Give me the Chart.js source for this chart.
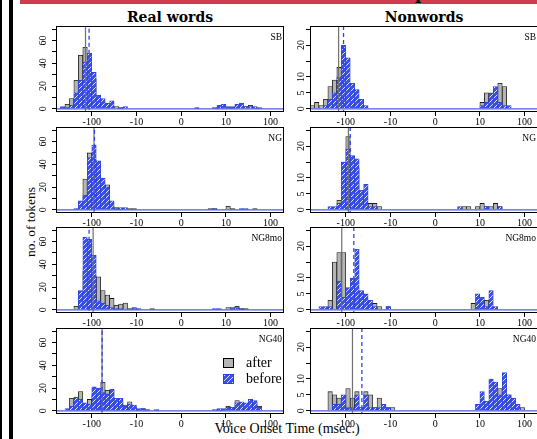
<!DOCTYPE HTML>
<html lang="en">
<head>
  <meta http-equiv="content-type" content="text/html; charset=UTF-8">
  <script src="https://cdn.jsdelivr.net/npm/chart.js"></script>
  <style>
    html, body { margin:0; padding:0; overflow:hidden; background:#fff; }
    body { position:relative; width:537px; height:439px; font-family:"Liberation Serif", serif; color:#000; }
    .abs { position:absolute; }
    canvas { position:absolute; }
    .title { position:absolute; top:8px; width:228px; text-align:center; font:bold 14px/18px "DejaVu Serif", serif; }
  </style>
</head>
<body>
  <div class="abs" style="left:0;top:0;width:2px;height:439px;background:#000"></div>
  <div class="abs" style="left:9px;top:0;width:4px;height:439px;background:#000"></div>
  <div class="abs" style="left:20px;top:0;width:517px;height:4px;background:#d03b4f"></div>
  <div class="abs" style="left:415px;top:-17px;font:bold 17px/20px 'DejaVu Serif',serif">p</div>
  <div class="title" style="left:56px">Real words</div>
  <div class="title" style="left:310px">Nonwords</div>
  <div class="abs" style="left:-29px;top:214px;width:120px;height:16px;line-height:16px;text-align:center;font-size:13.5px;transform:rotate(-90deg)">no. of tokens</div>
  <div class="abs" style="left:187px;top:421px;width:200px;text-align:center;font-size:14px;line-height:16px">Voice Onset Time (msec.)</div>

  <script>
    // x axis is in transformed units: -2 = -100 ms, -1 = -10, 0, 1 = 10, 2 = 100 ms
    const binStart = -2.8, binWidth = 0.1;
    const xMin = -2.8, xMax = 2.3;
    const xTickPos = [-2, -1, 0, 1, 2];
    const xTickText = ['-100', '-10', '0', '10', '100'];

    const yTicksWords = [0, 10, 20, 30, 40, 50, 60, 70];
    const yLabelsWords = ['0', '', '20', '', '40', '', '60', ''];
    const yTicksNon = [0, 5, 10, 15, 20, 25];
    const yLabelsNon = ['0', '5', '10', '', '20', ''];

    const panelNames = ['SB', 'SB', 'NG', 'NG', 'NG8mo', 'NG8mo', 'NG40', 'NG40'];

    // counts per bin, 51 bins (binStart .. xMax)
    const realSB_after = [
      0,1,4,9,25,47,54,40,26,8,  5,3,2,2,1,0,0,0,0,0,  0,0,0,0,0,0,0,0,0,0,
      0,0,0,0,0,1,1,2,1,1,  2,3,2,3,1,0,0,0,0,0,0];
    const realSB_before = [
      0,2,1,3,14,25,41,49,32,12,  9,5,7,0,1,2,0,0,0,0,  0,0,0,0,0,0,0,0,0,0,
      0,1,0,0,0,0,3,4,2,2,  4,5,2,2,2,1,0,0,0,0,0];
    const nonSB_after = [
      1,2,1,3,7,9,13,12,8,5,  3,1,0,0,0,0,0,0,0,0,  0,0,0,0,0,0,0,0,0,0,
      0,0,0,0,0,0,0,0,2,5,  4,5,8,7,0,0,0,0,0,0,0];
    const nonSB_before = [
      0,0,0,1,3,5,10,20,16,8,  6,3,1,0,0,0,0,0,0,0,  0,0,0,0,0,0,0,0,0,0,
      0,0,0,0,0,0,0,0,1,2,  5,7,2,1,1,0,0,0,0,0,0];
    const realNG_after = [
      0,0,0,0,0,0,27,50,44,36,  22,22,3,2,1,0,1,1,0,0,  0,0,0,0,0,0,0,0,0,0,
      0,0,0,0,1,1,0,0,3,1,  0,0,0,0,1,0,0,0,0,0,0];
    const realNG_before = [
      0,0,0,0,1,8,13,46,57,43,  28,20,8,1,2,2,0,0,0,0,  0,0,0,0,0,0,0,0,0,0,
      0,0,0,0,0,1,0,0,0,0,  0,1,1,0,0,0,0,0,0,0,0];
    const nonNG_after = [
      0,0,0,0,0,0,3,15,23,14,  13,6,2,2,2,1,0,0,0,0,  0,0,0,0,0,0,0,0,0,0,
      0,0,0,0,1,1,0,1,2,1,  1,2,1,0,0,0,0,0,0,0,0];
    const nonNG_before = [
      0,0,0,0,1,1,2,15,19,17,  16,6,8,1,1,0,0,0,0,0,  0,0,0,0,0,0,0,0,0,0,
      0,0,0,1,0,0,0,0,0,1,  0,0,1,0,0,0,0,0,0,0,0];
    const realNG8_after = [
      0,0,0,0,3,16,34,35,30,29,  17,13,10,4,5,6,1,2,0,0,  0,1,0,0,0,0,0,0,0,0,
      0,0,0,0,0,0,0,0,2,2,  3,1,1,0,0,0,0,0,0,0,0];
    const realNG8_before = [
      0,0,0,0,0,17,64,62,48,8,  6,4,2,1,1,0,0,1,1,0,  0,0,0,0,0,0,0,0,0,0,
      0,0,0,0,0,1,1,0,0,1,  2,1,0,0,0,0,0,0,0,0,0];
    const nonNG8_after = [
      0,0,0,0,3,15,18,18,4,4,  4,2,1,2,2,1,0,1,0,0,  0,0,0,0,0,0,0,0,0,0,
      0,0,0,0,0,0,2,1,1,3,  1,0,0,0,0,0,0,0,0,0,0];
    const nonNG8_before = [
      0,0,1,1,1,0,9,4,7,10,  19,6,5,3,1,0,0,1,0,0,  0,0,0,0,0,0,0,0,0,0,
      0,0,0,0,0,0,0,5,4,1,  6,1,0,0,0,0,0,0,0,0,0];
    const realNG40_after = [
      0,0,0,11,8,17,6,10,15,18,  25,18,18,11,8,5,8,3,1,2,  0,0,0,0,0,0,0,0,0,0,
      0,0,0,0,0,0,1,1,4,2,  9,6,5,8,7,4,0,0,0,0,0];
    const realNG40_before = [
      0,0,2,4,12,10,7,6,21,20,  16,15,19,11,11,4,6,5,2,2,  1,0,1,0,0,0,0,0,0,0,
      0,0,0,0,0,1,2,2,3,3,  7,8,7,10,9,3,0,0,0,0,0];
    const nonNG40_after = [
      0,0,0,0,6,5,4,4,7,4,  6,1,6,5,1,4,1,1,1,0,  0,0,0,0,0,0,0,0,0,0,
      0,0,0,0,0,0,0,0,1,1,  2,4,7,5,5,2,1,1,0,0,0];
    const nonNG40_before = [
      0,0,0,0,0,2,2,5,1,1,  5,1,5,1,1,1,2,1,0,0,  0,0,0,0,0,0,0,0,0,0,
      0,0,0,0,0,0,0,2,6,3,  10,9,5,12,5,4,2,0,0,0,0];

    // medians (transformed units), drawn as vertical lines
    const medianAfter = [-2.14, -2.16, -1.95, -1.94, -1.97, -2.09, -1.77, -1.85];
    const medianBefore = [-2.06, -2.05, -1.94, -1.90, -2.06, -1.82, -1.77, -1.64];

    const afterSeries = [realSB_after, nonSB_after, realNG_after, nonNG_after,
                         realNG8_after, nonNG8_after, realNG40_after, nonNG40_after];
    const beforeSeries = [realSB_before, nonSB_before, realNG_before, nonNG_before,
                          realNG8_before, nonNG8_before, realNG40_before, nonNG40_before];

    const rowTops = [26, 127, 227, 328];
    const boxW = 228, boxH = 86, axisW = 30, axisH = 16, padTop = 4;
    const grayFill = '#b5b5b5', blueLine = '#2b40e0';

    function makeHatch(ctx) {
      const t = document.createElement('canvas');
      t.width = 5; t.height = 5;
      const g = t.getContext('2d');
      g.fillStyle = '#3b50e4';
      g.fillRect(0, 0, 5, 5);
      g.strokeStyle = 'rgba(255,255,255,0.85)';
      g.lineWidth = 1;
      g.beginPath();
      g.moveTo(0, 5); g.lineTo(5, 0);
      g.moveTo(-1, 1); g.lineTo(1, -1);
      g.moveTo(4, 6); g.lineTo(6, 4);
      g.stroke();
      return ctx.createPattern(t, 'repeat');
    }

    const panelDecor = {
      id: 'panelDecor',
      afterDraw(chart, args, opts) {
        const { ctx, chartArea: a, scales } = chart;
        ctx.save();
        ctx.strokeStyle = '#000';
        ctx.lineWidth = 1;
        ctx.strokeRect(Math.round(a.left) + 0.5, Math.round(a.top) + 0.5,
                       Math.round(a.right - a.left) - 1, Math.round(a.bottom - a.top) - 1);

        // rotated y tick labels, R style
        ctx.fillStyle = '#000';
        ctx.font = '10px "Liberation Serif"';
        ctx.textAlign = 'center';
        ctx.textBaseline = 'middle';
        scales.y.ticks.forEach((t, i) => {
          const txt = opts.yLabels[i];
          if (!txt) return;
          ctx.save();
          ctx.translate(a.left - opts.labelGap, scales.y.getPixelForValue(t.value));
          ctx.rotate(-Math.PI / 2);
          ctx.fillText(txt, 0, 0);
          ctx.restore();
        });

        ctx.font = '9.5px "Liberation Serif"';
        ctx.textAlign = 'right';
        ctx.fillText(opts.name, a.right - 2, a.top + 11);

        if (opts.legend) {
          const bx = a.left + 167;
          const rows = [[a.top + 30, grayFill, '#000', 'after'],
                        [a.top + 46, chart.data.datasets[3].backgroundColor, blueLine, 'before']];
          ctx.font = '14px "Liberation Serif"';
          ctx.textAlign = 'left';
          rows.forEach(([by, fill, stroke, txt]) => {
            ctx.fillStyle = fill;
            ctx.fillRect(bx, by, 10, 9);
            ctx.strokeStyle = stroke;
            ctx.strokeRect(bx + 0.5, by + 0.5, 10, 9);
            ctx.fillStyle = '#000';
            ctx.fillText(txt, bx + 23, by + 5);
          });
        }
        ctx.restore();
      }
    };

    function drawPanel(idx) {
      const col = idx % 2, row = Math.floor(idx / 2);
      const words = col === 0;
      const boxLeft = words ? 56 : 310;
      const cv = document.createElement('canvas');
      cv.width = axisW + boxW + 2;
      cv.height = padTop + boxH + axisH;
      cv.style.left = (boxLeft - axisW) + 'px';
      cv.style.top = (rowTops[row] - padTop) + 'px';
      document.body.appendChild(cv);
      const ctx = cv.getContext('2d');
      const hatch = makeHatch(ctx);

      const after = afterSeries[idx], before = beforeSeries[idx];
      const centres = after.map((_, i) => +(binStart + (i + 0.5) * binWidth).toFixed(3));
      const yTicks = words ? yTicksWords : yTicksNon;
      const barOpts = { grouped: false, barPercentage: 1, categoryPercentage: 1, borderWidth: 0.8 };

      new Chart(cv, {
        type: 'bar',
        data: {
          datasets: [
            { type: 'line', data: [{ x: xMin, y: 0 }, { x: xMax, y: 0 }],
              borderColor: '#4a5ce6', borderWidth: 1.2, pointRadius: 0 },
            { type: 'line', data: [{ x: medianBefore[idx], y: -50 }, { x: medianBefore[idx], y: 200 }],
              borderColor: '#3344ee', borderWidth: 1.3, borderDash: [4, 3], pointRadius: 0 },
            { type: 'line', data: [{ x: medianAfter[idx], y: -50 }, { x: medianAfter[idx], y: 200 }],
              borderColor: '#707070', borderWidth: 1.2, pointRadius: 0 },
            Object.assign({ label: 'before', data: centres.map((x, i) => ({ x, y: before[i] })),
              backgroundColor: hatch, borderColor: blueLine }, barOpts),
            Object.assign({ label: 'after', data: centres.map((x, i) => ({ x, y: after[i] })),
              backgroundColor: grayFill, borderColor: '#1a1a1a' }, barOpts)
          ]
        },
        options: {
          responsive: false,
          animation: false,
          events: [],
          layout: { padding: { top: padTop, right: 2, left: 0, bottom: 0 } },
          plugins: {
            legend: { display: false },
            tooltip: { enabled: false },
            panelDecor: { yLabels: words ? yLabelsWords : yLabelsNon, labelGap: words ? 13 : 9,
                          name: panelNames[idx], legend: idx === 6 }
          },
          scales: {
            x: {
              type: 'linear', min: xMin, max: xMax, offset: false,
              afterBuildTicks: s => { s.ticks = xTickPos.map(v => ({ value: v })); },
              afterFit: s => { s.height = axisH; },
              ticks: { callback: v => xTickText[xTickPos.indexOf(v)], autoSkip: false, maxRotation: 0,
                       padding: 0, color: '#000', font: { family: 'Liberation Serif', size: 10 } },
              grid: { drawOnChartArea: false, drawTicks: true, tickLength: 4, color: '#000', offset: false },
              border: { display: false }
            },
            y: {
              type: 'linear', min: words ? -2.8 : -1, max: words ? 72.8 : 26,
              afterBuildTicks: s => { s.ticks = yTicks.map(v => ({ value: v })); },
              afterFit: s => { s.width = axisW; },
              ticks: { display: false },
              grid: { drawOnChartArea: false, drawTicks: true, tickLength: 4, color: '#000' },
              border: { display: false }
            }
          }
        },
        plugins: [panelDecor]
      });
    }

    window.addEventListener('DOMContentLoaded', () => {
      for (let i = 0; i < 8; i++) drawPanel(i);
    });
  </script>
</body>
</html>
